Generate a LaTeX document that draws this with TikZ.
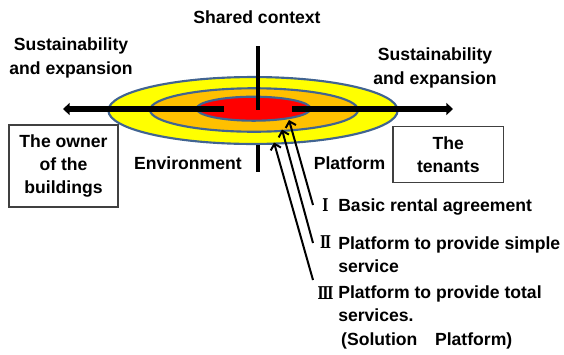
\documentclass[tikz,border=0pt]{standalone}
\usepackage{fontspec}
\setmainfont{Liberation Sans}
\newfontfamily\numfont{DejaVu Serif}
\usetikzlibrary{arrows.meta}
\definecolor{ringedge}{RGB}{65,100,145}
\definecolor{ringyellow}{RGB}{255,255,0}
\definecolor{ringorange}{RGB}{255,192,0}
\definecolor{ringred}{RGB}{255,0,0}
\newcommand{\romnum}[1]{\scalebox{0.74}[1]{\numfont #1}}
\begin{document}
\begin{tikzpicture}[x=0.75pt,y=-0.75pt,font=\fontsize{13.2}{17.5}\selectfont\bfseries,
  ring/.style={draw=ringedge,line width=1.6pt},
  axis/.style={line width=4.5pt,-{Triangle[length=5pt,width=9pt]}},
  party/.style={draw=black!75,line width=0.8pt,align=center,inner sep=0pt},
  level/.style={line width=1.5pt,-{Straight Barb[length=4pt,width=8pt]}},
  roman/.style={inner sep=0pt,anchor=base},
  lbl/.style={align=center,inner sep=0pt}]
\useasboundingbox (0,0) rectangle (564,354);
% rings
\draw [ring,fill=ringyellow] (253,110.5) ellipse [x radius=108.45pt,y radius=25.1pt];
\draw [ring,fill=ringorange] (254,110) ellipse [x radius=78pt,y radius=16.3pt];
\draw [ring,fill=ringred] (253.6,108.7) ellipse [x radius=42.75pt,y radius=9pt];
% axes
\draw [axis] (224,109) -- (63,109);
\draw [axis] (292,109) -- (453,109);
\draw [line width=2.5pt] (258,46) -- (258,110);
\draw [line width=2.5pt] (258,145) -- (258,172);
% labels
\node[lbl] (shared) at (257,17) {Shared context};
\node[lbl] (sustL) at (71,58) {Sustainability\\and expansion};
\node[lbl] (sustR) at (435,68) {Sustainability\\and expansion};
\node[lbl] (env) at (188,163) {Environment};
\node[lbl] (plat) at (349.5,163) {Platform};
\node[party,minimum width=81.75pt,minimum height=61.5pt] (owner) at (63.5,166) {The owner\\of the\\buildings};
\node[party,minimum width=83pt,minimum height=42pt] (tenants) at (448.3,154.6) {The\\tenants};
% levels (base = last line)
\node[roman] (numI) at (325.5,211.5) {\romnum{Ⅰ}};
\node[roman] (numII) at (325.5,248) {\romnum{Ⅱ}};
\node[roman] (numIII) at (325.5,299.3) {\romnum{Ⅲ}};
\node[inner sep=0pt,anchor=base west,align=left] (lvlI) at (338,211.5) {Basic rental agreement};
\node[inner sep=0pt,anchor=base west,align=left] (lvlII) at (338,272.5) {Platform to provide simple\\service};
\node[inner sep=0pt,anchor=base west,align=left] (lvlIII) at (338,345) {Platform to provide total\\services.\\\,(Solution\quad Platform)};
\coordinate (tailI) at (313,205);
\coordinate (tipI) at (289,120);
\coordinate (tailII) at (313,243);
\coordinate (tipII) at (282,129.5);
\coordinate (tailIII) at (313,280);
\coordinate (tipIII) at (274,142.5);
\draw [level] (tailI) -- (tipI);
\draw [level] (tailII) -- (tipII);
\draw [level] (tailIII) -- (tipIII);
\end{tikzpicture}
\end{document}
